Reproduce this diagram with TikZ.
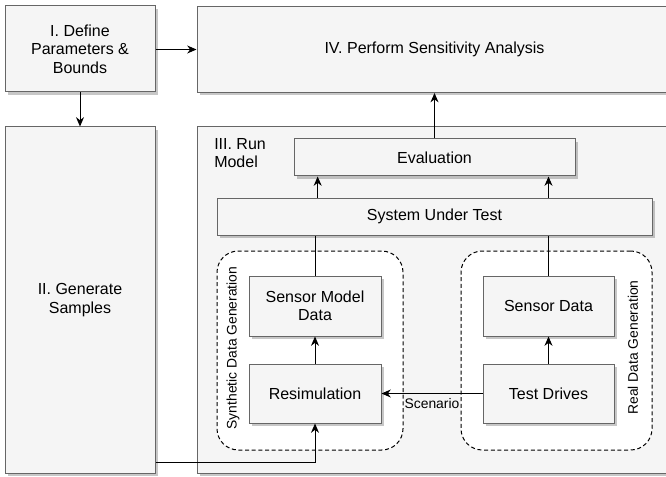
\documentclass[tikz,border=0pt]{standalone}
\usepackage{xcolor}
\usepackage{fontspec}
\setmainfont{Liberation Sans}
\usepackage{tikz}
\usetikzlibrary{arrows.meta}
\usetikzlibrary{shadows}
\usetikzlibrary{calc}
\definecolor{boxfill}{HTML}{F5F5F5}
\definecolor{boxline}{HTML}{666666}
\tikzset{
  procbox/.style={draw=boxline, fill=boxfill, line width=0.75pt, align=center, inner sep=0pt,
    drop shadow={shadow xshift=2pt, shadow yshift=-2pt, fill=black, opacity=0.22},
    font=\fontsize{12}{13.8}\selectfont},
  boxlbl/.style={align=left, inner sep=0pt, font=\fontsize{12}{13.8}\selectfont},
  groupbox/.style={draw=black, fill=white, line width=0.75pt, dash pattern=on 3pt off 2pt,
    rounded corners=16pt},
  flow/.style={-{Stealth[length=7pt,width=6pt]}, line width=0.75pt},
  link/.style={line width=0.75pt},
  smalllbl/.style={font=\fontsize{10.4}{12}\selectfont, inner sep=0pt}
}

\begin{document}
\begin{tikzpicture}[x=0.75pt, y=-0.75pt]
  \useasboundingbox (0,0) rectangle (666,477);
  \clip (0,0) rectangle (666,477);
  \node[procbox, minimum width=112.5pt, minimum height=64.5pt] (defp) at (80,49)
    {I. Define\\Parameters \&\\Bounds};
  \node[procbox, minimum width=112.5pt, minimum height=259.5pt] (gens) at (80,300)
    {II. Generate\\Samples};
  \node[procbox, minimum width=356.25pt, minimum height=64.5pt] (sens) at (434.5,49.5)
    {IV. Perform Sensitivity Analysis};
  \node[procbox, minimum width=356.25pt, minimum height=259.5pt] (runm) at (434.5,300) {};
  \node[boxlbl, anchor=north west] (runlbl) at (214,138) {III. Run\\Model};
  \node[procbox, minimum width=210.75pt, minimum height=27.75pt] (eval) at (434.5,157.5) {Evaluation};
  \node[procbox, minimum width=326.25pt, minimum height=27.75pt] (sut) at (434.5,216.5) {System Under Test};
  \node[groupbox, minimum width=139.5pt, minimum height=149.25pt] (synth) at (310,350.5) {};
  \node[groupbox, minimum width=143.25pt, minimum height=149.25pt] (real) at (556.5,350.5) {};
  \node[smalllbl, rotate=90] (synlbl) at (233,348) {Synthetic Data Generation};
  \node[smalllbl, rotate=90] (reallbl) at (633,347.5) {Real Data Generation};
  \node[procbox, minimum width=99pt, minimum height=45pt] (smd) at (315,306) {Sensor Model\\Data};
  \node[procbox, minimum width=99pt, minimum height=44.25pt] (resim) at (315,393.5) {Resimulation};
  \node[procbox, minimum width=98.25pt, minimum height=45pt] (sdata) at (548.5,306) {Sensor Data};
  \node[procbox, minimum width=98.25pt, minimum height=44.25pt] (tdrive) at (548.5,393.5) {Test Drives};

  \draw[flow] (defp.east |- sens.west) -- (sens.west);
  \draw[flow] (defp.south) -- (gens.north);
  \draw[flow] (eval.north) -- (sens.south);
  \draw[flow] ([xshift=2pt]sut.north -| smd.north) -- ([xshift=2pt]eval.south -| smd.north);
  \draw[flow] (sut.north -| sdata.north) -- (eval.south -| sdata.north);
  \draw[link] (smd.north) -- (sut.south -| smd.north);
  \draw[link] (sdata.north) -- (sut.south -| sdata.north);
  \draw[flow] (resim.north) -- (smd.south);
  \draw[flow] (tdrive.north) -- (sdata.south);
  \draw[flow] (tdrive.west) -- node[smalllbl, below=3pt] (scen) {Scenario} (resim.east);
  \draw[flow] ([yshift=8.25pt]gens.south east) -| (resim.south);
\end{tikzpicture}
\end{document}
